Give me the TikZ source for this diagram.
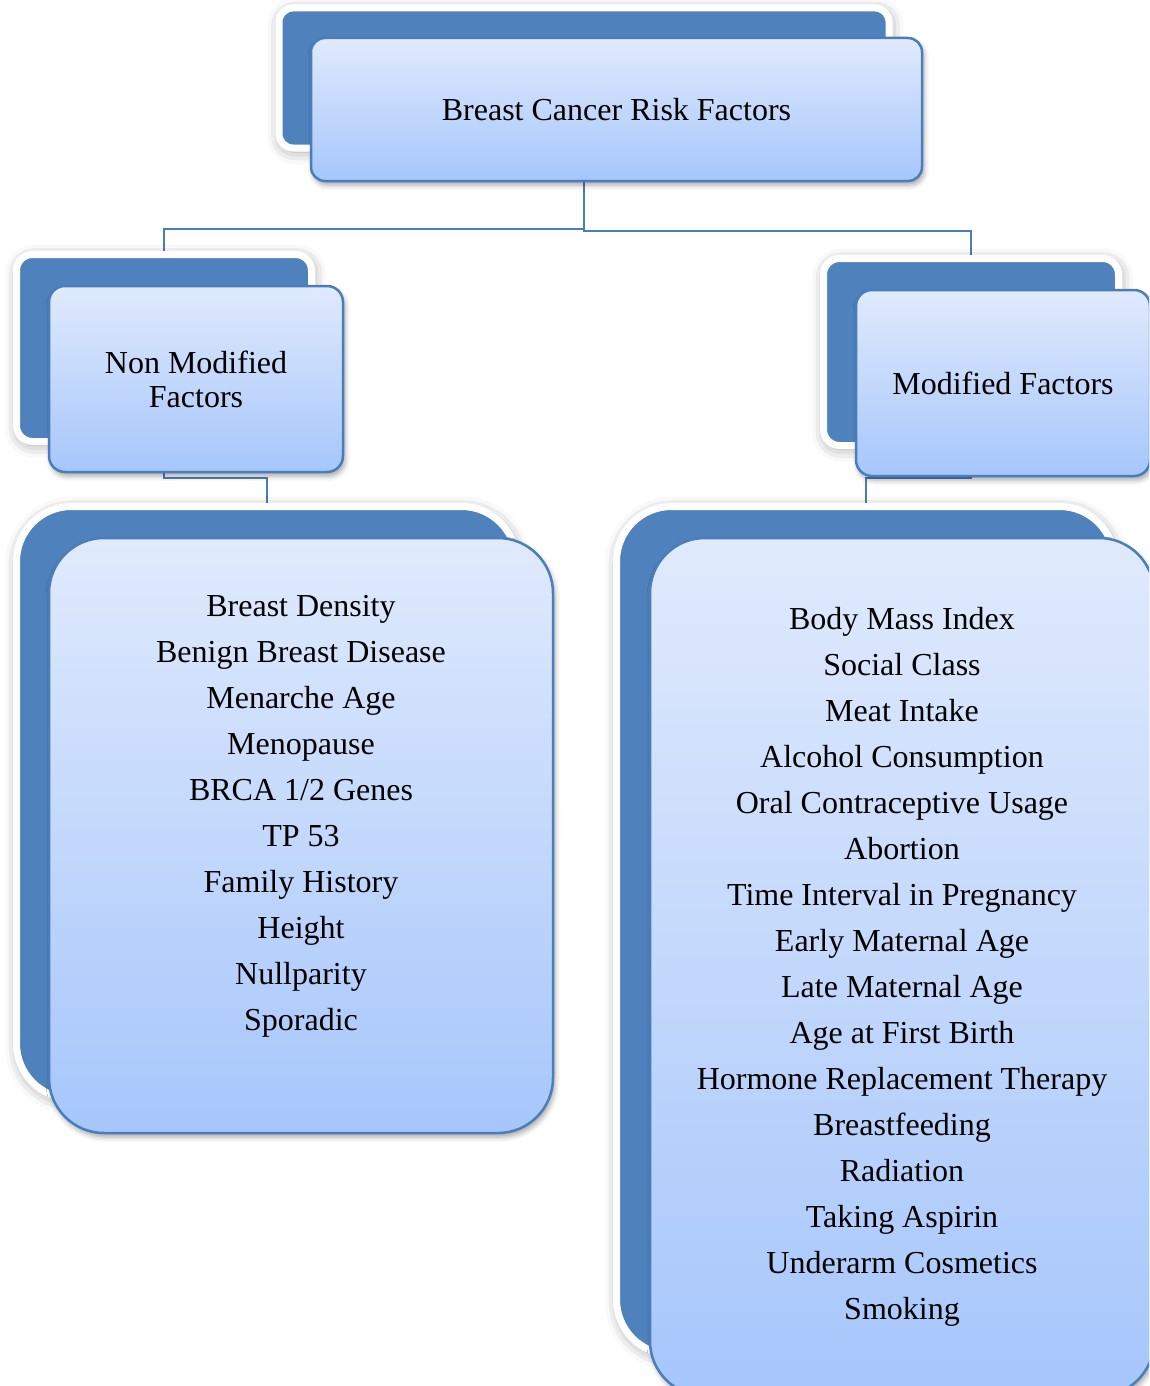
\documentclass[tikz,border=0pt]{standalone}
\usepackage{fontspec}
\setmainfont{Liberation Serif}
\usetikzlibrary{shadows.blur,backgrounds}
\definecolor{darkblue}{RGB}{79,129,189}
\definecolor{edgeblue}{RGB}{74,126,187}
\definecolor{topfill}{RGB}{224,234,252}
\definecolor{botfill}{RGB}{166,198,251}
\begin{document}
\begin{tikzpicture}[x=1pt,y=-1pt,
  backbox/.style={draw=white, line width=7pt, fill=darkblue, inner sep=0pt, outer sep=0pt,
    anchor=north west, blur shadow={shadow xshift=1.5pt, shadow yshift=-3pt, shadow blur radius=13pt, shadow opacity=40}},
  frontbox/.style={draw=edgeblue, line width=2.5pt, top color=topfill, bottom color=botfill,
    inner sep=0pt, outer sep=0pt, anchor=north west, align=center, text=black,
    blur shadow={shadow xshift=2pt, shadow yshift=-4pt, shadow blur radius=5pt, shadow opacity=35}},
  headfont/.style={font=\fontsize{32}{34}\selectfont},
  listfont/.style={font=\fontsize{32}{46}\selectfont},
  conn/.style={draw=edgeblue, line width=2pt}]
\useasboundingbox (0,0) rectangle (1149,1386);
\clip (0,0) rectangle (1149,1386);

% top
\node[backbox, rounded corners=14pt, minimum width=610pt, minimum height=140pt] (topback) at (279,8) {};
\node[frontbox, headfont, rounded corners=14pt, minimum width=611pt, minimum height=143pt] (topfront) at (311,38) {Breast Cancer Risk Factors};

% middle left
\node[backbox, rounded corners=16pt, minimum width=295pt, minimum height=187pt] (lmback) at (16.5,254.5) {};
\node[frontbox, headfont, rounded corners=16pt, minimum width=294pt, minimum height=186pt] (lmfront) at (49,286) {Non Modified\\Factors};

% middle right
\node[backbox, rounded corners=16pt, minimum width=295pt, minimum height=187pt] (rmback) at (823.5,258.5) {};
\node[frontbox, headfont, rounded corners=16pt, minimum width=294pt, minimum height=186pt] (rmfront) at (856,290) {Modified Factors};

% bottom left
\node[backbox, rounded corners=55pt, minimum width=500pt, minimum height=592pt] (lbback) at (16.5,506.5) {};
\node[frontbox, listfont, rounded corners=55pt, minimum width=504pt, minimum height=595pt] (lbfront) at (49,538) {%
Breast Density\\Benign Breast Disease\\Menarche Age\\Menopause\\BRCA 1/2 Genes\\TP 53\\Family History\\Height\\Nullparity\\Sporadic\\\mbox{}};

% bottom right
\node[backbox, rounded corners=55pt, minimum width=498pt, minimum height=848pt] (rbback) at (616.5,506.5) {};
\node[frontbox, listfont, rounded corners=55pt, minimum width=504pt, minimum height=858pt] (rbfront) at (650,538) {%
Body Mass Index\\Social Class\\Meat Intake\\Alcohol Consumption\\Oral Contraceptive Usage\\Abortion\\Time Interval in Pregnancy\\Early Maternal Age\\Late Maternal Age\\Age at First Birth\\Hormone Replacement Therapy\\Breastfeeding\\Radiation\\Taking Aspirin\\Underarm Cosmetics\\Smoking};

\begin{pgfonlayer}{background}
\draw[conn] (topback.south) -- ++(0,81) -| (lmback.north);
\draw[conn] (topback.south) -- ++(0,83) -| (rmback.north);
\draw[conn] (lmback.south) -- ++(0,36.5) -| (lbback.north);
\draw[conn] (rmback.south) -- ++(0,32.5) -| (rbback.north);
\end{pgfonlayer}
\end{tikzpicture}
\end{document}
